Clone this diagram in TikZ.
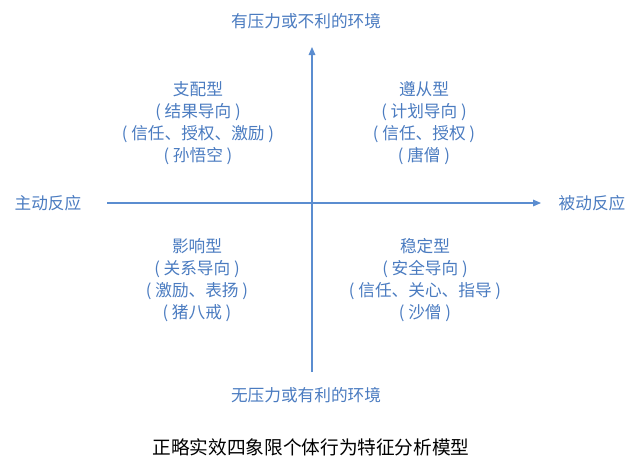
\documentclass[tikz,border=0pt]{standalone}
\usepackage{fontspec}
\usepackage{xcolor}
\usepackage{tikz}
\usetikzlibrary{arrows.meta}
\newfontfamily\cjk{Noto Sans CJK SC}
\definecolor{qblue}{HTML}{4A7BC0}
\definecolor{axblue}{HTML}{5B8DD0}

\begin{document}
\begin{tikzpicture}[x=0.75pt, y=-0.75pt, line width=0.75pt,
    qtext/.style={text=qblue, align=center, font=\cjk\fontsize{12.5}{16.6}\selectfont},
    axlabel/.style={text=qblue, font=\cjk\fontsize{12.5}{15}\selectfont},
    axis/.style={axblue, line width=0.8pt}]

  \useasboundingbox (0,0) rectangle (640,462);

  % -- ends of the two axes ------------------------------------------------
  \coordinate (vtop) at (312,47);
  \coordinate (vbot) at (312,372);
  \coordinate (hleft) at (107,203);
  \coordinate (hright) at (541,203);

  % -- axes ----------------------------------------------------------------
  \draw[axis, -{Triangle[length=6pt, width=5pt]}] (vbot) -- (vtop);
  \draw[axis, -{Triangle[length=6pt, width=5pt]}] (hleft) -- (hright);

  % -- axis titles ---------------------------------------------------------
  \node[axlabel] (top) at (306,21) {有压力或不利的环境};
  \node[axlabel] (bottom) at (306,395) {无压力或有利的环境};
  \node[axlabel] (left) at (48,203) {主动反应};
  \node[axlabel] (right) at (592,203) {被动反应};

  % -- the four quadrants --------------------------------------------------
  \node[qtext] (dom) at (198,123) {支配型\\( 结果导向 )\\( 信任、授权、激励 )\\( 孙悟空 )};
  \node[qtext] (obey) at (424,123) {遵从型\\( 计划导向 )\\( 信任、授权 )\\( 唐僧 )};
  \node[qtext] (infl) at (197,280) {影响型\\( 关系导向 )\\( 激励、表扬 )\\( 猪八戒 )};
  \node[qtext] (stab) at (425,280) {稳定型\\( 安全导向 )\\( 信任、关心、指导 )\\( 沙僧 )};

  % -- caption -------------------------------------------------------------
  \node[font=\cjk\fontsize{14}{16}\selectfont] (caption) at (311,447) {正略实效四象限个体行为特征分析模型};

\end{tikzpicture}
\end{document}
